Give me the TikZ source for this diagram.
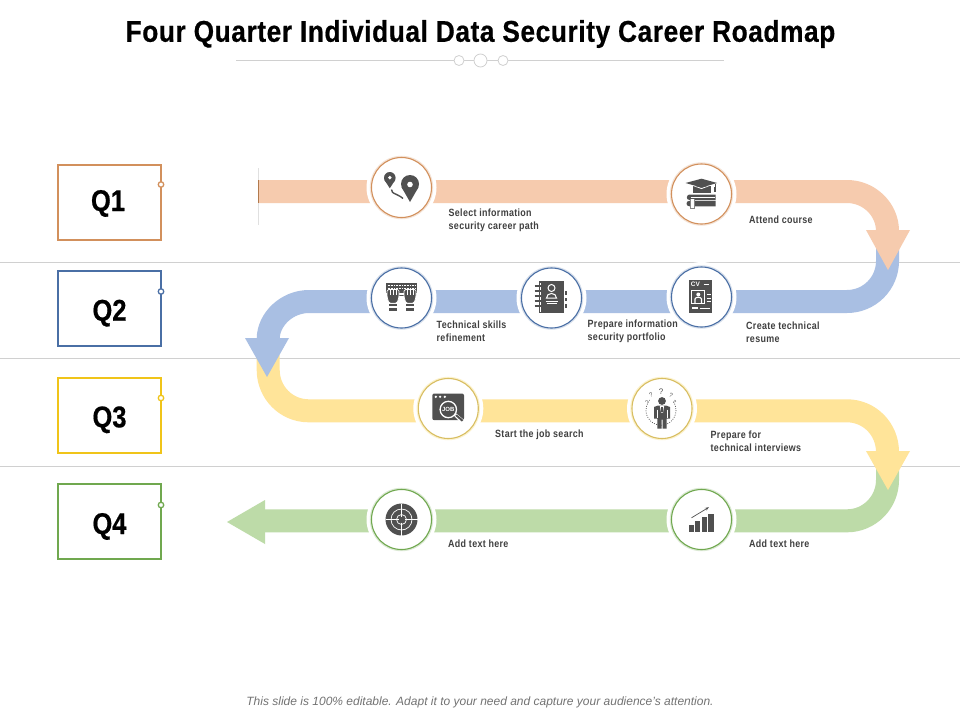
\documentclass[tikz,border=0pt]{standalone}
\usepackage{fontspec}
\usetikzlibrary{arrows.meta}
\setmainfont{Liberation Sans}
\newfontfamily\titlefont[FakeStretch=0.875,LetterSpace=2,FakeBold=0.6]{Liberation Sans Bold}
\newfontfamily\qfont[FakeStretch=0.85,FakeBold=0.5]{Liberation Sans Bold}
\newfontfamily\lblfont[FakeStretch=0.85,LetterSpace=3]{Liberation Sans Bold}
\definecolor{bo}{HTML}{F6CBAE}
\definecolor{bb}{HTML}{A9BFE3}
\definecolor{by}{HTML}{FFE499}
\definecolor{bg}{HTML}{BDDBA8}
\definecolor{ro}{HTML}{D2905C}
\definecolor{rb}{HTML}{4A6FA5}
\definecolor{ry}{HTML}{F0C419}
\definecolor{rg}{HTML}{70A84F}
\definecolor{rys}{HTML}{D8BE62}
\definecolor{ic}{HTML}{505050}
\definecolor{lbl}{HTML}{404040}
\definecolor{rule}{HTML}{D0D0D0}
\tikzset{
  x=1pt,y=-1pt,
  band/.style={line width=23pt,line cap=butt,line join=round},
  qbox/.style={draw=#1,line width=2pt,fill=white,minimum width=103pt,minimum height=75pt,inner sep=0pt},
  qtext/.style={anchor=base,inner sep=0pt,text=black,font=\qfont\fontsize{30}{30}\selectfont},
  qdot/.style={circle,draw=#1,line width=1.3pt,fill=white,minimum size=5.5pt,inner sep=0pt},
  halo/.style={circle,fill=white,minimum size=70pt,inner sep=0pt},
  ring/.style={circle,draw=#1,line width=1.1pt,fill=white,minimum size=60pt,inner sep=0pt},
  lab/.style={anchor=west,align=left,text=lbl,inner sep=0pt,font=\lblfont\fontsize{10.5}{13}\selectfont},
  tdot/.style={circle,draw=rule,line width=.8pt,fill=white,inner sep=0pt,minimum size=#1},
  hrule/.style={draw=rule,line width=1pt},
}
\newcommand{\waypt}[5]{% name, x, y, ring colour, pale colour
  \node[halo] at (#2,#3) {};
  \node[circle,draw=#5,line width=2.4pt,minimum size=61pt,inner sep=0pt] at (#2,#3) {};
  \node[ring=#4] (#1) at (#2,#3) {};
}
\begin{document}
\begin{tikzpicture}
\useasboundingbox (0,0) rectangle (960,720);
\fill[white] (0,0) rectangle (960,720);
% rules
\coordinate (r1a) at (0,262.5); \coordinate (r1b) at (960,262.5);
\coordinate (r2a) at (0,358.5); \coordinate (r2b) at (960,358.5);
\coordinate (r3a) at (0,466.5); \coordinate (r3b) at (960,466.5);
\draw[hrule] (r1a)--(r1b); \draw[hrule] (r2a)--(r2b); \draw[hrule] (r3a)--(r3b);
% title
\node[font=\titlefont\fontsize{30}{30}\selectfont,text=black,inner sep=0pt] (title) at (480.5,34) {Four Quarter Individual Data Security Career Roadmap};
\coordinate (tla) at (236,60.5); \coordinate (tlb) at (724,60.5);
\draw[rule,line width=.8pt] (tla)--(tlb);
\node[tdot=10pt] (t1) at (459,60.5) {};
\node[tdot=13pt] (t2) at (480.5,60.5) {};
\node[tdot=10pt] (t3) at (503,60.5) {};
% green band
\draw[band,bg] (887.5,465) -- (887.5,480) .. controls (887.5,502.4) and (869.4,520.8) .. (847,520.8) -- (262,520.8);
\fill[bg] (265,500) -- (227,522) -- (265,544) -- cycle;
% yellow band
\draw[band,by] (268.2,355) -- (268.2,370) .. controls (268.2,392.4) and (286.1,410.8) .. (308.7,410.8) -- (847,410.8) .. controls (869.4,410.8) and (887.5,429) .. (887.5,452);
\fill[by] (866,451) -- (910,451) -- (888,490) -- cycle;
% blue band
\draw[band,bb] (887.5,248) -- (887.5,261) .. controls (887.5,283.4) and (869.4,301.5) .. (847,301.5) -- (309,301.5) .. controls (286.6,301.5) and (268.2,319.6) .. (268.2,339);
\fill[bb] (245,338) -- (289,338) -- (267,377) -- cycle;
% orange band
\draw[band,bo] (258,191.5) -- (847,191.5) .. controls (869.4,191.5) and (887.5,209.6) .. (887.5,231);
\fill[bo] (866,230) -- (910,230) -- (888,270) -- cycle;
\draw[line width=.9pt,draw=black!12] (258,168) -- (258,225);
\draw[line width=.9pt,draw=ro!85!black] (258,180) -- (258,203);
% stops
\waypt{s1}{401.5}{187.5}{ro}{ro!25}
\waypt{s2}{701.5}{194}{ro}{ro!25}
\waypt{s3}{401.5}{298}{rb}{rb!22}
\waypt{s4}{551.5}{298}{rb}{rb!22}
\waypt{s5}{701.5}{297}{rb}{rb!22}
\waypt{s6}{448.3}{408.5}{rys}{ry!22}
\waypt{s7}{662}{408.5}{rys}{ry!22}
\waypt{s8}{401.5}{519.5}{rg}{rg!25}
\waypt{s9}{701.5}{519.5}{rg}{rg!25}
% icon: pins
\begin{scope}[shift={(s1.center)}]
  \fill[ic] (-11.7,-9.7) circle[radius=5.8];
  \fill[ic] (-17.1,-7.6) -- (-11.7,0.8) -- (-6.3,-7.6) -- cycle;
  \fill[white] (-11.7,-9.9) circle[radius=1.9];
  \fill[ic] (8.5,-3.5) circle[radius=9];
  \fill[ic] (0.1,-.2) -- (8.5,14.5) -- (16.9,-.2) -- cycle;
  \fill[white] (8.5,-3) circle[radius=2.8];
  \draw[ic,line width=1.4pt] (-10,2) .. controls (-9,7) and (-7,5) .. (-4,7.5) .. controls (-2,9) and (0,9) .. (1.5,11);
\end{scope}
% icon: cap and books
\begin{scope}[shift={(s2.center)}]
  \fill[ic] (-9,-8) -- (9,-8) -- (9,-1.5) -- (-9,-1.5) -- cycle;
  \fill[white] (-16.5,-11) -- (0,-6) -- (15.7,-11) -- (0,-5) -- cycle;
  \fill[ic] (-16,-11) -- (0,-15.3) -- (15.7,-11) -- (0,-6.5) -- cycle;
  \draw[ic,line width=1pt] (13.5,-10.5) -- (13.5,-3);
  \fill[ic] (12.3,-7) rectangle (14.7,-2);
  \fill[ic] (-12,0.5) -- (14,0.5) -- (14,6) -- (-12,6) .. controls (-16,6) and (-15,0.5) .. (-12,0.5) -- cycle;
  \fill[ic] (-12,6.8) -- (14,6.8) -- (14,12.3) -- (-12,12.3) .. controls (-16,12.3) and (-16,6.8) .. (-12,6.8) -- cycle;
  \draw[white,line width=.6pt] (-11,3.5) -- (13,3.5);
  \fill[white] (-11,5) rectangle (-7,14);
  \draw[ic!70,line width=.4pt] (-11,5) -- (-11,14) -- (-7,14) -- (-7,5);
\end{scope}
% icon: keyboard and hands
\begin{scope}[shift={(s3.center)}]
  \fill[ic] (-15.5,-15) rectangle (15.5,-5);
  \draw[white,line width=1pt,dash pattern=on .8pt off .8pt] (-14,-12.5) -- (14,-12.5);
  \draw[white,line width=1pt,dash pattern=on .8pt off .8pt] (-14,-9.8) -- (14,-9.8);
  \draw[ic,line width=1pt] (-3,-3) -- (3,-3);
  \foreach \s in {-8.5,8.5}{
    \begin{scope}[shift={(\s,0)}]
    \filldraw[fill=ic,draw=white,line width=.7pt,rounded corners=1.5pt] (-6,-1) -- (-6,-8.5) -- (6,-8.5) -- (6,-1) -- (4,5.2) -- (-4,5.2) -- cycle;
    \foreach \f in {-3,0,3}{\draw[white,line width=.6pt] (\f,-8.5) -- (\f,-3.5);}
    \fill[ic] (-4.3,6.2) rectangle (4.3,8.2);
    \fill[ic] (-4.3,10) rectangle (4.3,13.3);
    \end{scope}}
\end{scope}
% icon: notebook
\begin{scope}[shift={(s4.center)}]
  \fill[ic] (-13,-16.7) rectangle (12,15);
  \draw[white,line width=.7pt] (-11.5,-15) -- (-11.5,13.5);
  \foreach \p in {-12,-7,-2,3,8}{\draw[ic,line width=1.2pt] (-17,\p) -- (-10,\p); }
  \foreach \p in {-5,1.5,8}{\fill[ic] (13.5,\p-1.7) rectangle (15.8,\p+1.7);}
  \draw[white,line width=1pt] (0,-10) circle[radius=3.5];
  \draw[white,line width=1pt] (-5,0) .. controls (-5,-6) and (5,-6) .. (5,0) -- cycle;
  \draw[white,line width=1pt] (-6,3) -- (6,3);
  \draw[white,line width=.7pt] (-5,5.5) -- (5,5.5);
\end{scope}
% icon: CV
\begin{scope}[shift={(s5.center)}]
  \fill[ic] (-12.7,-16.7) rectangle (10.3,16);
  \node[inner sep=0pt,text=white,font=\bfseries\fontsize{6.5}{6.5}\selectfont] (cvt) at (-6,-13) {CV};
  \draw[white,line width=.8pt] (2,-13) -- (7,-13);
  \draw[white,line width=.9pt] (-10,-7) rectangle (3.3,6.7);
  \fill[white] (-3.2,-2.5) circle[radius=2];
  \draw[white,line width=1.1pt] (-6.5,6) -- (-6.5,2) .. controls (-6,-.3) and (-.5,-.3) .. (0,2) -- (0,6);
  \foreach \p in {-2.5,1,4.5}{\draw[white,line width=.9pt] (5.2,\p) -- (9,\p);}
  \fill[white] (-9.7,10.3) rectangle (-4,12);
  \draw[white,line width=.7pt] (-2,11) -- (8.5,11);
\end{scope}
% icon: job search
\begin{scope}[shift={(s6.center)}]
  \fill[ic,rounded corners=2pt] (-16,-15) rectangle (15.7,11.7);
  \foreach \p in {-12.5,-8.2,-3.5}{\fill[white] (\p,-11.7) circle[radius=1.3];}
  \draw[white,line width=1.3pt] (0,1) circle[radius=8.2];
  \fill[white] (5.5,7) -- (8,5) -- (17,12.5) -- (13,15) -- cycle;
  \fill[ic] (7,7.2) -- (8.5,6) -- (15,11.5) -- (13.5,13) -- cycle;
  \node[inner sep=0pt,text=white,font=\bfseries\fontsize{6}{6}\selectfont] (jobt) at (0,1) {JOB};
\end{scope}
% icon: interview
\begin{scope}[shift={(s7.center)}]
  \draw[ic,line width=.7pt,dash pattern=on .9pt off 1.4pt] (-1,1.7) circle[radius=15];
  \fill[white] (-12,-16) rectangle (12,-8);
  \fill[ic] (0,-7.5) circle[radius=3.9];
  \fill[ic] (-8,-1.5) -- (-4,-3) -- (4,-3) -- (8,-1.5) -- (8,10) -- (4.7,10) -- (4.7,20) -- (.5,20) -- (.5,11) -- (-.5,11) -- (-.5,20) -- (-4.7,20) -- (-4.7,10) -- (-8,10) -- cycle;
  \fill[white] (-2.2,-3) -- (2.2,-3) -- (1,4) -- (-1,4) -- cycle;
  \fill[ic] (-.8,-1.5) rectangle (.8,3);
  \draw[white,line width=.5pt] (-5,1) -- (-5,9);
  \draw[white,line width=.5pt] (5,1) -- (5,9);
  \node[inner sep=0pt,text=ic,font=\fontsize{8}{8}\selectfont] (q1) at (-1,-17) {?};
  \node[inner sep=0pt,text=ic,rotate=25,font=\fontsize{6}{6}\selectfont] (q2) at (-11,-13.5) {?};
  \node[inner sep=0pt,text=ic,rotate=-25,font=\fontsize{6}{6}\selectfont] (q3) at (9,-13.5) {?};
  \node[inner sep=0pt,text=ic,rotate=40,font=\fontsize{5}{5}\selectfont] (q4) at (-15,-6.5) {?};
  \node[inner sep=0pt,text=ic,rotate=-40,font=\fontsize{5}{5}\selectfont] (q5) at (12.5,-6.5) {?};
\end{scope}
% icon: target
\begin{scope}[shift={(s8.center)}]
  \fill[ic] (0,0) circle[radius=16];
  \draw[white,line width=.7pt] (0,0) circle[radius=10.5];
  \draw[white,line width=.7pt] (0,0) circle[radius=5];
  \draw[white,line width=.7pt] (-16,0) -- (-3,0) (3,0) -- (16,0) (0,-16) -- (0,-3) (0,3) -- (0,16);
\end{scope}
% icon: chart
\begin{scope}[shift={(s9.center)}]
  \fill[ic] (-12.7,5.7) rectangle (-7.4,12.3);
  \fill[ic] (-6.7,1.7) rectangle (-1.5,12.3);
  \fill[ic] (0,-2.7) rectangle (5.3,12.3);
  \fill[ic] (6.7,-6) rectangle (12,12.3);
  \draw[ic,line width=.7pt,-{Stealth[length=4pt,width=3pt]}] (-10,-1.7) -- (7.5,-12.3);
\end{scope}
% labels
\node[lab] (l1) at (448.5,220) {Select information\\security career path};
\node[lab] (l2) at (749,219.5) {Attend course};
\node[lab] (l3) at (436.5,331.5) {Technical skills\\refinement};
\node[lab] (l4) at (587.5,331.5) {Prepare information\\security portfolio};
\node[lab] (l5) at (746,332.5) {Create technical\\resume};
\node[lab] (l6) at (495,434.5) {Start the job search};
\node[lab] (l7) at (710.5,441.5) {Prepare for\\technical interviews};
\node[lab] (l8) at (448,543.5) {Add text here};
\node[lab] (l9) at (749,543.5) {Add text here};
% quarter boxes
\node[qbox=ro] (q1b) at (109,202) {};
\node[qbox=rb] (q2b) at (109,308.5) {};
\node[qbox=ry] (q3b) at (109,415) {};
\node[qbox=rg] (q4b) at (109,521.7) {};
\node[qtext] (q1t) at (108,211) {Q1};
\node[qtext] (q2t) at (109.5,320.7) {Q2};
\node[qtext] (q3t) at (109.5,427.3) {Q3};
\node[qtext] (q4t) at (109.5,534) {Q4};
\node[qdot=ro] (d1) at (161,184.5) {};
\node[qdot=rb] (d2) at (161,291.5) {};
\node[qdot=ry] (d3) at (161,398) {};
\node[qdot=rg] (d4) at (161,505) {};
% footer
\node[inner sep=0pt,text=black!55,font=\itshape\fontsize{12}{12}\selectfont] (foot) at (480,702.5) {This slide is 100\% editable. Adapt it to your need and capture your audience’s attention.};
\end{tikzpicture}
\end{document}
